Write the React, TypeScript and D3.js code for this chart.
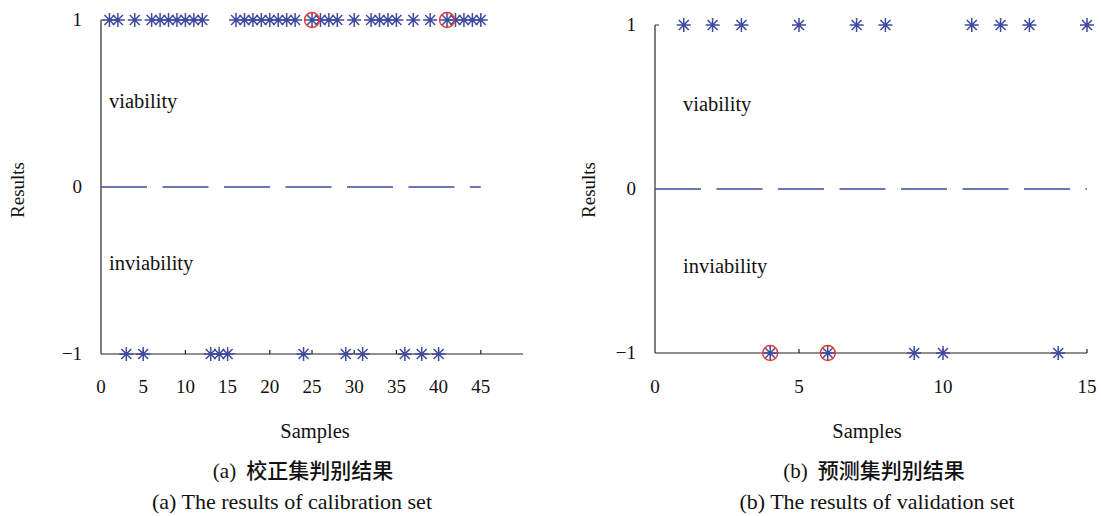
import React from 'react';
import * as d3 from 'd3';

// discrimination result of each sample (1 = viability, -1 = inviability)
const calibResults = [
  1, 1, -1, 1, -1, 1, 1, 1, 1, 1, 1, 1, -1, -1, -1,
  1, 1, 1, 1, 1, 1, 1, 1, -1, 1, 1, 1, 1, -1, 1,
  -1, 1, 1, 1, 1, -1, 1, -1, 1, -1, 1, 1, 1, 1, 1,
];
const calibMisjudged = [25, 41];

const validResults = [1, 1, 1, -1, 1, -1, 1, 1, -1, -1, 1, 1, 1, -1, 1];
const validMisjudged = [4, 6];

const yTicks = [-1, 0, 1];
const calibXTicks = [0, 5, 10, 15, 20, 25, 30, 35, 40, 45];
const validXTicks = [0, 5, 10, 15];

const SERIF = '"Liberation Serif", "Times New Roman", serif';
const CJK = '"Noto Sans CJK SC", sans-serif';
const BLUE = '#3f4b9c';
const RED = '#e5392e';
const STAR = 'M-7,0H7M0,-7V7M-5,-5L5,5M-5,5L5,-5';

type PanelProps = {
  results: number[];
  misjudged: number[];
  xDomain: [number, number];
  xRange: [number, number];
  yRange: [number, number];
  xTicks: number[];
  tag: string;
  cn: string;
  en: string;
  capX: [number, number, number];
  labelX: number;
  noteX: number;
  textDy: number;
};

function Panel({ results, misjudged, xDomain, xRange, yRange, xTicks, tag, cn, en, capX, labelX, noteX, textDy }: PanelProps) {
  const x = d3.scaleLinear().domain(xDomain).range(xRange);
  const y = d3.scaleLinear().domain([-1, 1]).range(yRange);
  const n = results.length;
  const x0 = x(0);
  const yB = y(-1);

  return (
    <g>
      {/* threshold line */}
      <line x1={x(0)} x2={x(n)} y1={y(0)} y2={y(0)} stroke={BLUE} strokeWidth={1.3} strokeDasharray="46 15.5" />

      {/* axes */}
      <line x1={x0} x2={x0} y1={y(1)} y2={yB} stroke="#555" strokeWidth={1.5} />
      <line x1={x0} x2={x0 + 4} y1={y(1)} y2={y(1)} stroke="#555" strokeWidth={1.2} />
      <line x1={x0} x2={x(xDomain[1])} y1={yB} y2={yB} stroke="#222" strokeWidth={1.2} />
      {xTicks.filter(t => t > 0).map(t => (
        <line key={t} x1={x(t)} x2={x(t)} y1={yB} y2={yB - 4} stroke="#222" strokeWidth={1.2} />
      ))}
      {xTicks.map(t => (
        <text key={t} x={x(t)} y={393} textAnchor="middle" fontFamily={SERIF} fontSize={19} fill="#111">{t}</text>
      ))}
      {yTicks.map(t => (
        <text key={t} x={x0 - 19} y={y(t) + 6} textAnchor="end" fontFamily={SERIF} fontSize={19} fill="#111">
          {t < 0 ? `\u2212${-t}` : t}
        </text>
      ))}

      <text x={noteX} y={108 + textDy} fontFamily={SERIF} fontSize={20.5} fill="#111">viability</text>
      <text x={noteX} y={270 + textDy} fontFamily={SERIF} fontSize={20.5} fill="#111">inviability</text>

      {/* samples */}
      {results.map((r, i) => (
        <path key={i} d={STAR} transform={`translate(${x(i + 1)},${y(r)})`} stroke={BLUE} strokeWidth={1.5} fill="none" />
      ))}
      {misjudged.map(s => (
        <circle key={s} cx={x(s)} cy={y(results[s - 1])} r={7.5} fill="none" stroke={RED} strokeWidth={1.4} />
      ))}

      <text transform={`translate(${labelX},190) rotate(-90)`} textAnchor="middle" fontFamily={SERIF} fontSize={19} fill="#111">Results</text>
      <text x={capX[0]} y={438} textAnchor="middle" fontFamily={SERIF} fontSize={20.5} fill="#111">Samples</text>
      <text x={capX[1]} y={478} textAnchor="middle" fontSize={21} fill="#111">
        <tspan fontFamily={SERIF}>{tag}</tspan>
        <tspan fontFamily={CJK} fontWeight={500} dx={10}>{cn}</tspan>
      </text>
      <text x={capX[2]} y={509} textAnchor="middle" fontFamily={SERIF} fontSize={22} fill="#111">{en}</text>
    </g>
  );
}

export default function App() {
  return (
    <svg width={1101} height={516} style={{ position: 'absolute', left: 0, top: 0, background: '#fff' }}>
      <rect width={1101} height={516} fill="#fff" />
      <Panel
        results={calibResults}
        misjudged={calibMisjudged}
        xDomain={[0, 50]}
        xRange={[101, 523]}
        yRange={[354, 20]}
        xTicks={calibXTicks}
        tag="(a)"
        cn="校正集判别结果"
        en="(a) The results of calibration set"
        capX={[315, 303, 292]}
        labelX={24}
        noteX={109}
        textDy={0}
      />
      <Panel
        results={validResults}
        misjudged={validMisjudged}
        xDomain={[0, 15]}
        xRange={[655, 1087]}
        yRange={[353, 25]}
        xTicks={validXTicks}
        tag="(b)"
        cn="预测集判别结果"
        en="(b) The results of validation set"
        capX={[867, 874, 877]}
        labelX={595}
        noteX={683}
        textDy={3}
      />
    </svg>
  );
}
